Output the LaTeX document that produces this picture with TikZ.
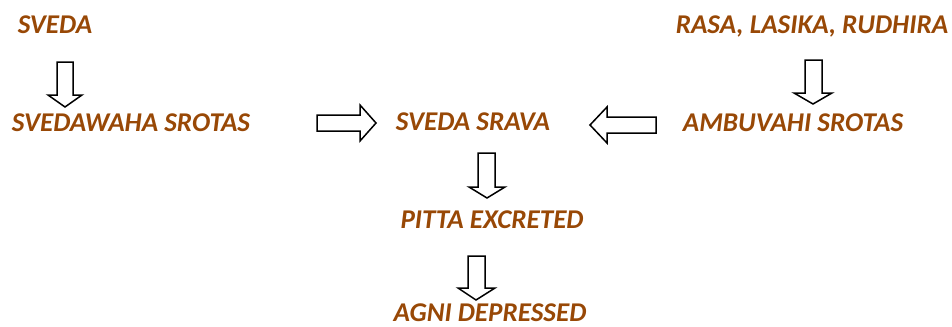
\documentclass[tikz,border=0pt]{standalone}
\usepackage{fontspec}
\setmainfont{Carlito}
\definecolor{srotabrown}{RGB}{152,72,6}
\tikzset{
 label/.style={anchor=base,inner sep=0pt,text depth=0pt,text=srotabrown,font=\fontsize{27.2}{30}\selectfont\bfseries\itshape},
 blockarrow/.style={draw=black,fill=white,line width=1.5bp,line join=miter}
}
\begin{document}
\begin{tikzpicture}[x=1bp,y=-1bp]
 \useasboundingbox (0,0) rectangle (952,326);
 % texts
 \node[label] (sveda) at (55,33) {SVEDA};
 \node[label] (svedawaha) at (131,131) {SVEDAWAHA SROTAS};
 \node[label] (srava) at (473,130) {SVEDA SRAVA};
 \node[label] (ambuvahi) at (793,131) {AMBUVAHI SROTAS};
 \node[label] (rasa) at (812,33) {RASA, LASIKA, RUDHIRA};
 \node[label] (pitta) at (492,228) {PITTA EXCRETED};
 \node[label] (agni) at (490,321) {AGNI DEPRESSED};
 % block arrows
 \draw[blockarrow](57,62)--(73,62)--(73,95)--(82,95)--(65,107)--(48,95)--(57,95)--cycle;
 \draw[blockarrow](805,60)--(822,60)--(822,93)--(832,93)--(813,104)--(794,93)--(805,93)--cycle;
 \draw[blockarrow](317,115)--(360,115)--(360,105)--(376,123)--(360,141)--(360,131)--(317,131)--cycle;
 \draw[blockarrow](656,117)--(607,117)--(607,107)--(590,125)--(607,143)--(607,133)--(656,133)--cycle;
 \draw[blockarrow](478,153)--(495,153)--(495,187)--(505,187)--(487,198)--(469,187)--(478,187)--cycle;
 \draw[blockarrow](468,256)--(485,256)--(485,288)--(495,288)--(476,300)--(458,288)--(468,288)--cycle;
\end{tikzpicture}
\end{document}
